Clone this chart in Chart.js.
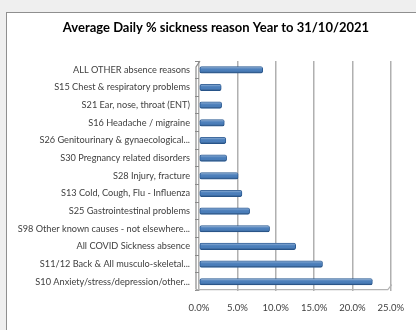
<!DOCTYPE html>
<html>
<head>
<meta charset="utf-8">
<script src="https://cdn.jsdelivr.net/npm/chart.js@4/dist/chart.umd.min.js"></script>
<style>
  html, body { margin: 0; padding: 0; background: #efefef; }
  #frame { position: absolute; left: 6px; top: 12px; width: 420px; height: 330px;
           background: #ffffff; border: 1px solid #8f8f8f; box-sizing: border-box; }
  #wrap { position: absolute; left: 0; top: 0; width: 416px; height: 330px; }
</style>
</head>
<body>
<div id="frame"></div>
<div id="wrap"><canvas id="c" width="416" height="330"></canvas></div>
<script>
// Sickness reasons, top of the list first
const reasons = [
  "ALL OTHER absence reasons",
  "S15 Chest & respiratory problems",
  "S21 Ear, nose, throat (ENT)",
  "S16 Headache / migraine",
  "S26 Genitourinary & gynaecological...",
  "S30 Pregnancy related disorders",
  "S28 Injury, fracture",
  "S13 Cold, Cough, Flu - Influenza",
  "S25 Gastrointestinal problems",
  "S98 Other known causes - not elsewhere...",
  "All COVID Sickness absence",
  "S11/12 Back & All musculo-skeletal...",
  "S10 Anxiety/stress/depression/other..."
];
// Average daily share of sickness absence (%)
const avgDailyPct = [8.3, 2.9, 2.95, 3.3, 3.5, 3.6, 5.1, 5.6, 6.6, 9.2, 12.6, 16.1, 22.6];
// Axis ticks (%)
const pctTicks = [0, 5, 10, 15, 20, 25];
const chartTitle = 'Average Daily % sickness reason Year to 31/10/2021';

const FONT = "Lato, 'Open Sans', sans-serif";

// Title centred over the whole chart box
const titleText = {
  id: 'titleText',
  afterDraw(chart) {
    const ctx = chart.ctx;
    ctx.save();
    ctx.font = 'bold 13px ' + FONT;
    ctx.fillStyle = '#000000';
    ctx.textAlign = 'center';
    ctx.textBaseline = 'middle';
    ctx.fillText(chartTitle, 216, 28);
    ctx.restore();
  }
};

// Shading on each bar for a cylinder-like look
const barShade = {
  id: 'barShade',
  afterDatasetsDraw(chart) {
    const ctx = chart.ctx;
    chart.getDatasetMeta(0).data.forEach(el => {
      const h = el.height, top = el.y - h / 2;
      const left = Math.min(el.base, el.x), w = Math.abs(el.x - el.base);
      const g = ctx.createLinearGradient(0, top, 0, top + h);
      g.addColorStop(0, 'rgba(255,255,255,0.45)');
      g.addColorStop(0.35, 'rgba(255,255,255,0.05)');
      g.addColorStop(0.7, 'rgba(0,0,0,0.0)');
      g.addColorStop(1, 'rgba(0,0,0,0.35)');
      ctx.save();
      ctx.fillStyle = g;
      ctx.fillRect(left + 1, top + 0.5, w - 1.5, h - 1);
      ctx.restore();
    });
  }
};

// Floor edge under the bars and the side wall edge
const floorEdge = {
  id: 'floorEdge',
  beforeDatasetsDraw(chart) {
    const { ctx, chartArea: a } = chart;
    ctx.save();
    ctx.strokeStyle = '#b4b4b4';
    ctx.lineWidth = 1.2;
    ctx.beginPath();
    ctx.moveTo(a.left - 3, a.bottom - 1);
    ctx.lineTo(a.right - 3, a.bottom - 1);
    ctx.lineTo(a.right + 1, a.bottom - 6);
    ctx.stroke();
    ctx.strokeStyle = '#8a8a8a';
    ctx.beginPath();
    ctx.moveTo(a.left - 3, a.bottom - 1);
    ctx.lineTo(a.left - 3, a.top + 6);
    ctx.lineTo(a.left + 1, a.top);
    ctx.stroke();
    ctx.restore();
  }
};

new Chart(document.getElementById('c'), {
  type: 'bar',
  data: {
    labels: reasons,
    datasets: [{
      data: avgDailyPct,
      backgroundColor: '#4a7ebb',
      borderColor: '#2a5a93',
      borderWidth: 1,
      borderSkipped: false,
      borderRadius: 2,
      barThickness: 6.5
    }]
  },
  plugins: [floorEdge, barShade, titleText],
  options: {
    indexAxis: 'y',
    responsive: false,
    animation: false,
    devicePixelRatio: 1,
    layout: { padding: { left: 6, right: 21, top: 61, bottom: 4 } },
    plugins: {
      legend: { display: false },
      tooltip: { enabled: false },
      title: { display: false }
    },
    scales: {
      x: {
        min: 0, max: 25,
        afterBuildTicks(scale) { scale.ticks = pctTicks.map(v => ({ value: v })); },
        border: { display: false },
        grid: { color: '#b0b0b0', lineWidth: 1.5, drawTicks: false },
        ticks: {
          padding: 12,
          color: '#404040',
          font: { family: FONT, size: 9.5 },
          callback: v => Number(v).toFixed(1) + '%'
        }
      },
      y: {
        border: { display: false },
        grid: { drawOnChartArea: false, color: '#8a8a8a', tickLength: 4, offset: true },
        ticks: {
          color: '#404040',
          padding: 5,
          font: { family: FONT, size: 9.2 },
          autoSkip: false
        },
        afterFit(scale) { scale.width = 193; }
      }
    }
  }
});
</script>
</body>
</html>
